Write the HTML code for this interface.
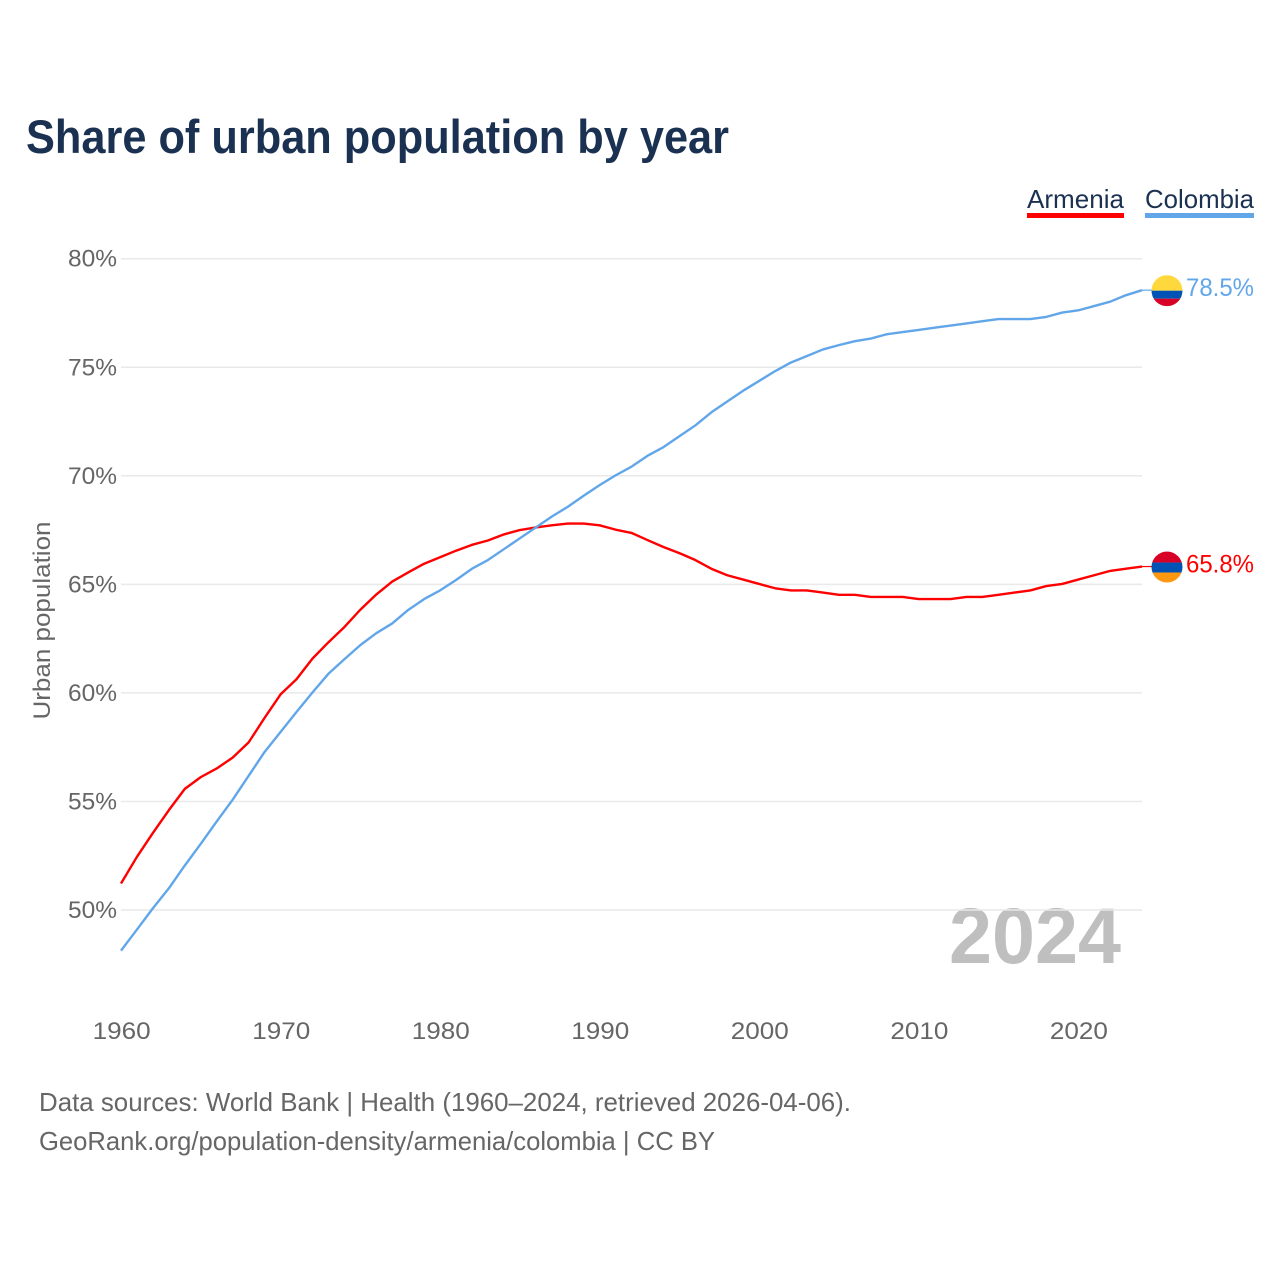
<!DOCTYPE html>
<html lang="en">
<head>
<meta charset="utf-8">
<title>Share of urban population by year</title>
<style>
html,body{margin:0;padding:0;background:#fff;}
svg{display:block;font-family:"Liberation Sans",sans-serif;}
</style>
</head>
<body>
<svg id="chart" xmlns="http://www.w3.org/2000/svg" width="1280" height="1280" viewBox="0 0 1280 1280">
  <defs>
    <clipPath id="clip-colombia"><circle id="clip-colombia-circle" cx="1167" cy="290.5" r="15.5"/></clipPath>
    <clipPath id="clip-armenia"><circle id="clip-armenia-circle" cx="1167" cy="566.5" r="15.5"/></clipPath>
  </defs>
  <rect width="1280" height="1280" fill="#ffffff"/>
  <text x="26" y="153" font-size="47" font-weight="700" fill="#1a3152" textLength="703" lengthAdjust="spacingAndGlyphs">Share of urban population by year</text>

  <g>
    <text x="1027" y="208" font-size="26" fill="#1a3152" textLength="97" lengthAdjust="spacingAndGlyphs">Armenia</text>
    <rect x="1027" y="213" width="97" height="5" fill="#ff0000"/>
  </g>
  <g>
    <text x="1145" y="208" font-size="26" fill="#1a3152" textLength="109" lengthAdjust="spacingAndGlyphs">Colombia</text>
    <rect x="1145" y="213" width="109" height="5" fill="#62a6ea"/>
  </g>

  <text x="949" y="963" font-size="79" font-weight="700" fill="#bfbfbf" textLength="172" lengthAdjust="spacingAndGlyphs">2024</text>
  <g id="grid"></g>
  <g id="y-ticks"></g>
  <g id="x-ticks"></g>
  <text transform="translate(50,620.5) rotate(-90)" text-anchor="middle" font-size="24" fill="#666666" textLength="198" lengthAdjust="spacingAndGlyphs">Urban population</text>
  <g id="series"></g>

  <g id="flag-colombia"></g>
  <g id="flag-armenia"></g>

  <text x="39" y="1111" font-size="26" fill="#666666" textLength="812" lengthAdjust="spacingAndGlyphs">Data sources: World Bank | Health (1960–2024, retrieved 2026-04-06).</text>
  <text x="39" y="1150" font-size="26" fill="#666666" textLength="676" lengthAdjust="spacingAndGlyphs">GeoRank.org/population-density/armenia/colombia | CC BY</text>
</svg>
<script>
const years = [1960,1961,1962,1963,1964,1965,1966,1967,1968,1969,1970,1971,1972,1973,1974,1975,1976,1977,1978,1979,1980,1981,1982,1983,1984,1985,1986,1987,1988,1989,1990,1991,1992,1993,1994,1995,1996,1997,1998,1999,2000,2001,2002,2003,2004,2005,2006,2007,2008,2009,2010,2011,2012,2013,2014,2015,2016,2017,2018,2019,2020,2021,2022,2023,2024];
const armeniaValues = [51.22,52.45,53.55,54.6,55.58,56.12,56.52,57.02,57.72,58.85,59.93,60.63,61.58,62.33,63.03,63.83,64.53,65.13,65.55,65.95,66.25,66.55,66.82,67.02,67.3,67.5,67.62,67.72,67.8,67.8,67.72,67.52,67.37,67.04,66.72,66.44,66.12,65.72,65.42,65.22,65.02,64.82,64.72,64.72,64.62,64.52,64.52,64.42,64.42,64.42,64.32,64.32,64.32,64.42,64.42,64.52,64.62,64.72,64.92,65.02,65.22,65.42,65.62,65.72,65.82];
const colombiaValues = [48.13,49.1,50.08,51.0,52.05,53.05,54.08,55.08,56.18,57.28,58.2,59.12,60.02,60.88,61.55,62.2,62.75,63.2,63.82,64.32,64.72,65.2,65.72,66.12,66.62,67.12,67.62,68.12,68.57,69.08,69.57,70.02,70.42,70.92,71.32,71.82,72.32,72.92,73.42,73.92,74.37,74.82,75.22,75.52,75.82,76.02,76.2,76.32,76.52,76.62,76.72,76.82,76.92,77.02,77.12,77.22,77.22,77.22,77.32,77.52,77.62,77.82,78.02,78.32,78.55];
const yTickValues = [50,55,60,65,70,75,80];
const yTickLabels = ["50%","55%","60%","65%","70%","75%","80%"];
const xTickValues = [1960,1970,1980,1990,2000,2010,2020];
const xTickLabels = ["1960","1970","1980","1990","2000","2010","2020"];
const armeniaEndLabel = "65.8%";
const colombiaEndLabel = "78.5%";

const NS = "http://www.w3.org/2000/svg";
function xScale(year){ return 121 + (year - 1960) * (1142 - 121) / (2024 - 1960); }
function yScale(value){ return 258.7 + (80 - value) * (910 - 258.7) / 30; }
function make(tag, attrs, parent){
  const el = document.createElementNS(NS, tag);
  for (const k in attrs) el.setAttribute(k, attrs[k]);
  parent.appendChild(el);
  return el;
}

const grid = document.getElementById("grid");
const yTicks = document.getElementById("y-ticks");
yTickValues.forEach(function(v, i){
  const line = make("line", {x1:121, x2:1142, y1:yScale(v), y2:yScale(v), stroke:"#e9e9e9", "stroke-width":1.5}, grid);
  
  
  const t = make("text", {x:117, y:yScale(v)+8, "text-anchor":"end", "font-size":24, fill:"#666666", textLength:49, lengthAdjust:"spacingAndGlyphs"}, yTicks);
  
  
  t.textContent = yTickLabels[i];
});

const xTicks = document.getElementById("x-ticks");
xTickValues.forEach(function(v, i){
  const t = make("text", {x:xScale(v)+0.7, y:1039, "text-anchor":"middle", "font-size":24, fill:"#666666", textLength:58, lengthAdjust:"spacingAndGlyphs"}, xTicks);
  
  
  t.textContent = xTickLabels[i];
});

function linePath(values){
  return values.map(function(v, i){
    return (i ? "L" : "M") + xScale(years[i]).toFixed(2) + " " + yScale(v).toFixed(2);
  }).join("");
}
const series = document.getElementById("series");
const armeniaLine = make("path", {d:linePath(armeniaValues), fill:"none", stroke:"#ff0000", "stroke-width":2.4, "stroke-linejoin":"round"}, series);


const colombiaLine = make("path", {d:linePath(colombiaValues), fill:"none", stroke:"#62a6ea", "stroke-width":2.4, "stroke-linejoin":"round"}, series);



function endMarker(groupId, clipId, values, color, label, bands){
  const g = document.getElementById(groupId);
  const ey = yScale(values[values.length - 1]);
  const conn = make("line", {x1:1142, x2:1152, y1:ey, y2:ey, stroke:color, "stroke-width":1.2}, g);
  
  
  const cy = ey + 0.5;
  const clip = document.getElementById(clipId + "-circle");
  clip.setAttribute("cy", cy);
  const flag = make("g", {"clip-path":"url(#" + clipId + ")"}, g);
  
  
  bands.forEach(function(b){
    const r = make("rect", {x:1151, y:cy - 15.5 + b[0], width:32, height:b[1], fill:b[2]}, flag);
    
    
  });
  const t = make("text", {x:1186, y:ey + 6, "font-size":25, fill:color, textLength:68, lengthAdjust:"spacingAndGlyphs"}, g);
  
  
  t.textContent = label;
}
endMarker("flag-colombia", "clip-colombia", colombiaValues, "#62a6ea", colombiaEndLabel,
  [[0,15.5,"#ffd83d"],[15.5,8,"#0052b4"],[23.5,8,"#d80027"]]);
endMarker("flag-armenia", "clip-armenia", armeniaValues, "#ff0000", armeniaEndLabel,
  [[0,11,"#d80027"],[11,10,"#0052b4"],[21,10,"#ff9811"]]);
</script>
</body>
</html>
